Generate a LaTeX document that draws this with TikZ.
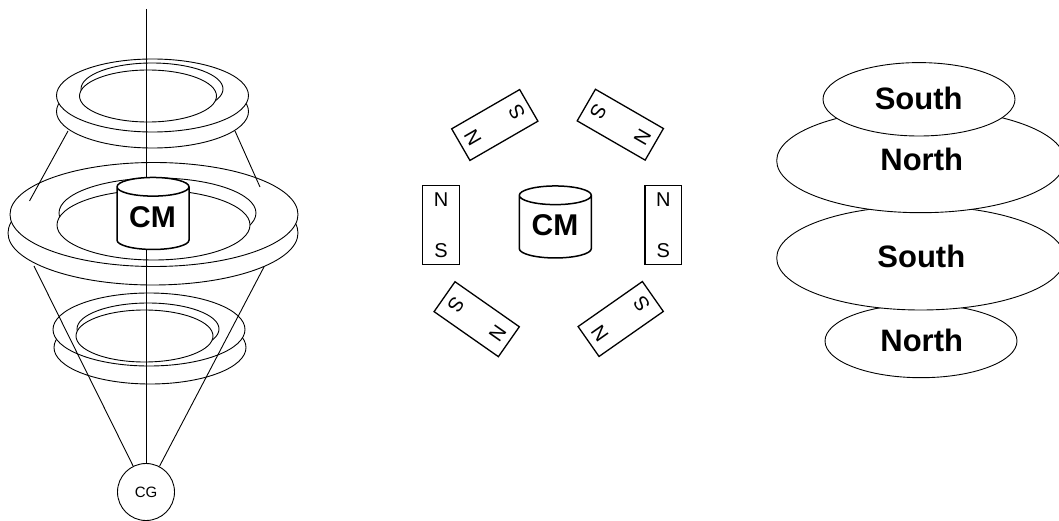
\documentclass[tikz,border=0pt]{standalone}
\usepackage{fontspec}
\setmainfont{Liberation Sans}
\usetikzlibrary{shapes.geometric}
\tikzset{
  ringe/.style n args={2}{ellipse,draw=black,fill=white,line width=0.9pt,inner sep=0pt,minimum width=#1pt,minimum height=#2pt},
  wire/.style={line width=0.9pt,draw=black},
  cmcyl/.style={cylinder,shape border rotate=90,aspect=0.4,draw=black,fill=white,line width=1.5pt,inner sep=0pt,
    minimum width=72pt,minimum height=72pt,font=\bfseries\fontsize{30}{30}\selectfont},
  cmtext/.style={inner sep=0pt,font=\bfseries\fontsize{30}{30}\selectfont},
  barmag/.style={rectangle,draw=black,fill=white,line width=1.3pt,inner sep=0pt,minimum width=36.5pt,minimum height=78.5pt},
  pole/.style={inner sep=0pt,font=\fontsize{20}{20}\selectfont},
  bigtext/.style={inner sep=0pt,font=\bfseries\fontsize{31}{31}\selectfont},
  cgcircle/.style={circle,draw=black,fill=white,line width=0.9pt,inner sep=0pt,minimum size=57pt,font=\fontsize{15}{15}\selectfont}
}
\newcommand{\barmagnet}[4]{%
  \begin{scope}[shift={(#2,#3)},rotate=#4,transform shape]
    \node[barmag] (mag#1) at (0,0) {};
    \node[pole] (mag#1n) at (0,-25.5) {N};
    \node[pole] (mag#1s) at (0,25.5) {S};
  \end{scope}}
\begin{document}
\begin{tikzpicture}[x=1pt,y=-1pt]
\useasboundingbox (0,0) rectangle (1059,521);
% anchor points of the wires
\coordinate (axistop) at (146,9);
\coordinate (lowleft) at (34,266);
\coordinate (lowright) at (265,265);
\coordinate (upleftA) at (68,131);
\coordinate (upleftB) at (29.5,201);
\coordinate (uprightA) at (235,131);
\coordinate (uprightB) at (260,187);
% CG first, lines from it
\node[cgcircle] (cg) at (146,492) {CG};
% lower ring
\node[ringe={192}{73}] (r3c) at (150,347.5) {};
\node[ringe={192}{73}] (r3a) at (149,329.5) {};
\node[ringe={142}{52}] (r3b) at (148,329) {};
\node[ringe={137}{52}] (r3d) at (144.5,336) {};
\draw[wire] (cg) -- (lowleft);
\draw[wire] (cg) -- (lowright);
% middle ring
\node[ringe={290}{104}] (r2c) at (153,233) {};
\node[ringe={288}{104}] (r2a) at (154,214.5) {};
\node[ringe={197}{70}] (r2b) at (157.5,213) {};
\node[ringe={193}{70}] (r2d) at (153.5,225) {};
\draw[wire] (upleftA) -- (upleftB);
\draw[wire] (uprightA) -- (uprightB);
% upper ring
\node[ringe={192}{73}] (r1c) at (152.5,111.5) {};
\node[ringe={192}{73}] (r1a) at (152.5,95.5) {};
\node[ringe={142}{52}] (r1b) at (152,89) {};
\node[ringe={137}{52}] (r1d) at (148,96) {};
% axis
\draw[wire] (axistop) -- (cg);
\node[cmcyl] (cmleft) at (153,218.5) {\phantom{CM}};
\node[cmtext] (cmlefttext) at (152.5,216.7) {CM};
% magnets
\barmagnet{a}{441}{225}{0}
\barmagnet{b}{663.3}{225}{0}
\barmagnet{c}{494.8}{125}{120}
\barmagnet{d}{620.3}{124.7}{240}
\barmagnet{e}{476.7}{319.2}{235}
\barmagnet{f}{620.7}{319}{125}
\node[cmcyl] (cmmid) at (555.3,227) {\phantom{CM}};
\node[cmtext] (cmmidtext) at (555,225) {CM};
% pole stack
\node[ringe={192}{73.4}] (e4) at (921,341) {};
\node[ringe={288}{104}] (e3) at (920.7,258) {};
\node[ringe={288}{104}] (e2) at (920.7,160.7) {};
\node[ringe={192}{73.4}] (e1) at (919,99.3) {};
\node[bigtext] (t1) at (918.7,98) {South};
\node[bigtext] (t2) at (921.7,159) {North};
\node[bigtext] (t3) at (921.3,256) {South};
\node[bigtext] (t4) at (921.7,340) {North};
\end{tikzpicture}
\end{document}
